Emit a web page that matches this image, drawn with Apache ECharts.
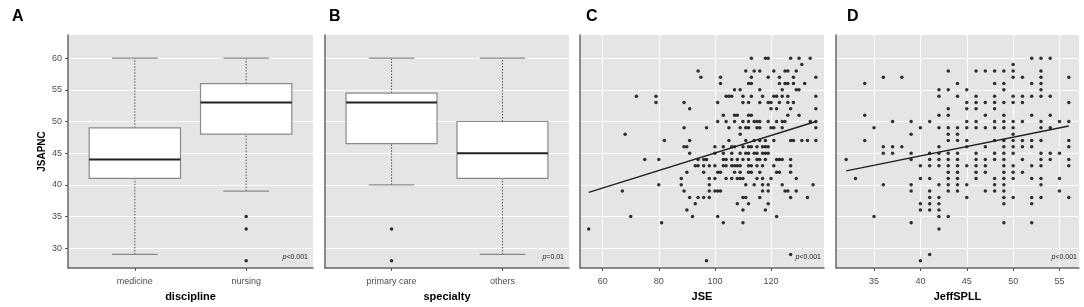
<!DOCTYPE html>
<html>
<head>
<meta charset="utf-8">
<script src="https://cdn.jsdelivr.net/npm/echarts@6/dist/echarts.min.js"></script>
<style>
  html, body { margin: 0; padding: 0; background: #fff; }
  #chart { width: 1084px; height: 307px; }
</style>
</head>
<body>
<div id="chart"></div>
<script>
// ---- data ----
const disciplineCats = ["medicine", "nursing"];
// [min, Q1, median, Q3, max]
const disciplineBox = [[29, 41, 44, 49, 60], [39, 48, 53, 56, 60]];
const disciplineOutliers = [[2, 35], [2, 33], [2, 28]];

const specialtyCats = ["primary care", "others"];
const specialtyBox = [[40, 46.5, 53, 54.5, 60], [29, 41, 45, 50, 60]];
const specialtyOutliers = [[1, 33], [1, 28]];

const yTicks = [30, 35, 40, 45, 50, 55, 60];
const jseTicks = [60, 80, 100, 120];
const spllTicks = [35, 40, 45, 50, 55];

// JSAPNC value -> JSE scores on that row
const jseRows = [
  [60, [113, 118, 119, 127, 130, 134]],
  [59, [131]],
  [58, [94, 111, 114, 116, 121, 125, 126, 129]],
  [57, [95, 102, 113, 119, 123, 128, 136]],
  [56, [102, 112, 113, 123, 125, 126, 128, 132]],
  [55, [107, 109, 116, 124, 129, 130]],
  [54, [72, 79, 104, 105, 106, 110, 113, 117, 121, 122, 124, 126, 136]],
  [53, [79, 89, 101, 110, 112, 116, 119, 120, 123, 126, 128]],
  [52, [91, 120, 122, 127, 136]],
  [51, [103, 107, 108, 112, 113, 126, 130]],
  [50, [101, 104, 107, 110, 112, 114, 115, 116, 119, 122, 124, 125, 134, 136]],
  [49, [89, 97, 105, 109, 111, 112, 115, 116, 120, 121, 124, 136]],
  [48, [68, 109]],
  [47, [82, 91, 105, 111, 114, 116, 118, 121, 127, 128, 131, 133, 136]],
  [46, [89, 90, 100, 103, 106, 107, 110, 112, 113, 115, 117, 118, 119]],
  [45, [91, 100, 103, 106, 109, 111, 112, 114, 115, 117, 118, 119]],
  [44, [75, 80, 94, 96, 97, 103, 104, 106, 108, 110, 112, 115, 116, 118, 122, 123, 124, 127]],
  [43, [93, 94, 96, 98, 100, 103, 104, 106, 107, 108, 109, 112, 113, 115, 117, 121, 127]],
  [42, [90, 96, 101, 102, 107, 109, 112, 113, 116, 122, 123, 127]],
  [41, [88, 98, 100, 104, 106, 108, 109, 110, 115, 117, 120, 129]],
  [40, [80, 88, 98, 111, 114, 117, 119, 124, 135]],
  [39, [67, 89, 98, 100, 101, 102, 117, 119, 125, 126, 129]],
  [38, [91, 94, 96, 98, 110, 111, 116, 127, 133]],
  [37, [93, 108, 112, 119]],
  [36, [90, 110, 118]],
  [35, [70, 92, 101, 122]],
  [34, [81, 103, 110]],
  [33, [55]],
  [29, [127]],
  [28, [97]]
];
const jseFit = [[55, 38.8], [136, 50.0]];

// JSAPNC value -> JeffSPLL scores on that row
const spllRows = [
  [60, [52, 53, 54]],
  [59, [50]],
  [58, [43, 46, 47, 48, 49, 50, 53]],
  [57, [36, 38, 50, 51, 53, 56]],
  [56, [34, 44, 48, 49, 52, 53]],
  [55, [42, 43, 45, 49, 53]],
  [54, [42, 44, 46, 48, 50, 51, 52, 53, 54]],
  [53, [45, 46, 47, 48, 49, 50, 51, 56]],
  [52, [43, 45, 46, 48]],
  [51, [34, 42, 43, 47, 49, 52, 54]],
  [50, [37, 39, 41, 45, 46, 48, 49, 50, 51, 53, 55, 56]],
  [49, [35, 40, 42, 43, 44, 45, 46, 47, 48, 49, 50, 53, 54]],
  [48, [39, 43, 44, 50]],
  [47, [34, 43, 44, 45, 48, 49, 50, 51, 52, 53, 56]],
  [46, [36, 37, 38, 42, 45, 47, 49, 50, 51, 52, 56]],
  [45, [36, 37, 39, 41, 42, 43, 44, 46, 48, 49, 50, 53, 54, 55]],
  [44, [32, 39, 41, 42, 43, 44, 46, 47, 48, 49, 51, 53, 54, 56]],
  [43, [40, 41, 42, 43, 44, 45, 46, 47, 49, 50, 52, 53, 56]],
  [42, [43, 44, 46, 47, 49, 50, 51]],
  [41, [33, 40, 41, 43, 44, 46, 48, 49, 50, 52, 53, 55]],
  [40, [36, 39, 42, 43, 44, 45, 48, 49, 53]],
  [39, [39, 41, 43, 44, 47, 48, 49, 55]],
  [38, [41, 42, 45, 49, 50, 52, 53, 56]],
  [37, [40, 41, 42, 49, 52]],
  [36, [40, 41, 42]],
  [35, [35, 42, 43]],
  [34, [39, 49, 52]],
  [33, [42]],
  [29, [41]],
  [28, [40]]
];
const spllFit = [[32, 42.2], [56, 49.3]];

const pLabels = ["<0.001", "=0.01", "<0.001", "<0.001"];

// ---- styling ----
const FONT = "Liberation Sans, Arial, sans-serif";
const PANEL_BG = "#e5e5e5";
const AXIS_COLOR = "#666";
const Y_MIN = 26.85, Y_MAX = 63.67;
const BOX_HALF = 0.41;
const CAP_HALF = 0.205;

const flatten = (rows) => rows.flatMap(([y, xs]) => xs.map((x) => [x, y]));

const grids = [
  { left: 68, top: 35, width: 245, height: 234 },
  { left: 325, top: 35, width: 244, height: 234 },
  { left: 580, top: 35, width: 244, height: 234 },
  { left: 836, top: 35, width: 243, height: 234 }
].map((g) => ({ ...g, show: true, backgroundColor: PANEL_BG, borderWidth: 0 }));

const axisLine = { show: true, onZero: false, lineStyle: { color: AXIS_COLOR, width: 1.5 } };
const tickStyle = { length: 3, lineStyle: { color: "#555" } };
const tickLabel = { fontSize: 9, color: "#4d4d4d", fontFamily: FONT };
const titleStyle = { fontSize: 11, fontWeight: "bold", color: "#000", fontFamily: FONT };

function yAxisFor(i) {
  const first = i === 0;
  return {
    type: "value", gridIndex: i, min: Y_MIN, max: Y_MAX,
    axisLine,
    axisTick: { ...tickStyle, show: first, customValues: yTicks },
    axisLabel: { ...tickLabel, show: first, customValues: yTicks, margin: 6 },
    splitLine: { show: true, lineStyle: { color: "#fff", width: 1 } },
    name: first ? "JSAPNC" : "",
    nameLocation: "middle", nameGap: 21, nameRotate: 90,
    nameTextStyle: { ...titleStyle, fontSize: 10 }
  };
}

function catAxis(i, cats, name) {
  return {
    type: "value", gridIndex: i, min: 0.4, max: 2.6,
    axisLine,
    axisTick: { ...tickStyle, customValues: [1, 2] },
    axisLabel: { ...tickLabel, customValues: [1, 2], margin: 9, formatter: (v) => cats[Math.round(v) - 1] },
    splitLine: { show: false },
    name, nameLocation: "middle", nameGap: 23, nameTextStyle: titleStyle
  };
}

function numAxis(i, min, max, ticks, name) {
  return {
    type: "value", gridIndex: i, min, max,
    axisLine,
    axisTick: { ...tickStyle, customValues: ticks },
    axisLabel: { ...tickLabel, customValues: ticks, margin: 9 },
    splitLine: { show: true, lineStyle: { color: "#fff", width: 1 } },
    name, nameLocation: "middle", nameGap: 23, nameTextStyle: titleStyle
  };
}

// box + dotted whiskers + caps, all placed through the axis scales
function renderBox(params, api) {
  const x = api.value(0);
  const [lo, q1, med, q3, hi] = [1, 2, 3, 4, 5].map((d) => api.value(d));
  const c = (a, b) => api.coord([a, b]);
  const line = (p1, p2, style) => ({
    type: "line",
    shape: { x1: p1[0], y1: p1[1], x2: p2[0], y2: p2[1] },
    style
  });
  const whisker = { stroke: "#555", lineWidth: 1, lineDash: [1.5, 1.5] };
  const cap = { stroke: "#8a8a8a", lineWidth: 1.2 };
  const tl = c(x - BOX_HALF, q3);
  const br = c(x + BOX_HALF, q1);
  return {
    type: "group",
    children: [
      line(c(x, q3), c(x, hi), whisker),
      line(c(x, lo), c(x, q1), whisker),
      line(c(x - CAP_HALF, hi), c(x + CAP_HALF, hi), cap),
      line(c(x - CAP_HALF, lo), c(x + CAP_HALF, lo), cap),
      {
        type: "rect",
        shape: { x: tl[0], y: tl[1], width: br[0] - tl[0], height: br[1] - tl[1] },
        style: { fill: "#fff", stroke: "#8a8a8a", lineWidth: 1.2 }
      },
      line(c(x - BOX_HALF, med), c(x + BOX_HALF, med), { stroke: "#222", lineWidth: 2 })
    ]
  };
}

const dots = (i, data) => ({
  type: "scatter", xAxisIndex: i, yAxisIndex: i, data,
  symbolSize: 3.5, itemStyle: { color: "#000" }, silent: true
});

const boxSeries = (i, boxes) => ({
  type: "custom", xAxisIndex: i, yAxisIndex: i,
  data: boxes.map((b, k) => [k + 1, ...b]),
  encode: { x: 0, y: [1, 2, 3, 4, 5] },
  renderItem: renderBox, silent: true
});

const fitLine = (i, data) => ({
  type: "line", xAxisIndex: i, yAxisIndex: i, data,
  symbol: "none", lineStyle: { color: "#222", width: 1.5 }, silent: true, z: 3
});

const letters = [["A", 12], ["B", 329], ["C", 586], ["D", 847]].map(([t, x]) => ({
  type: "text", left: x, top: 9,
  style: { text: t, font: "bold 16px " + FONT, fill: "#000" }
}));

const pRight = [308, 564, 821, 1077];
const pTexts = pLabels.map((lab, i) => ({
  type: "text", x: pRight[i], y: 257,
  style: {
    text: "{i|p}" + lab,
    align: "right", verticalAlign: "middle",
    rich: { i: { fontStyle: "italic", fontSize: 7, fill: "#222", fontFamily: FONT } },
    font: "7px " + FONT, fill: "#222"
  },
  z: 10
}));

const chart = echarts.init(document.getElementById("chart"), null, { renderer: "canvas" });
chart.setOption({
  animation: false,
  grid: grids,
  xAxis: [
    catAxis(0, disciplineCats, "discipline"),
    catAxis(1, specialtyCats, "specialty"),
    numAxis(2, 51.9, 138.9, jseTicks, "JSE"),
    numAxis(3, 30.9, 57.1, spllTicks, "JeffSPLL")
  ],
  yAxis: [0, 1, 2, 3].map(yAxisFor),
  series: [
    boxSeries(0, disciplineBox),
    dots(0, disciplineOutliers),
    boxSeries(1, specialtyBox),
    dots(1, specialtyOutliers),
    dots(2, flatten(jseRows)),
    fitLine(2, jseFit),
    dots(3, flatten(spllRows)),
    fitLine(3, spllFit)
  ],
  graphic: [...letters, ...pTexts]
});
</script>
</body>
</html>
